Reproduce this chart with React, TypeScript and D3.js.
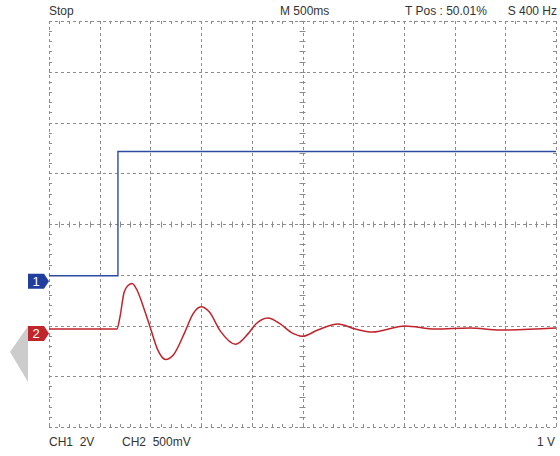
import React from "react";
import * as d3 from "d3";

// Header / footer labels
const topLabels = ["Stop", "M 500ms", "T Pos : 50.01%", "S 400 Hz"];
const bottomLabels = ["CH1  2V", "CH2  500mV", "1 V"];

// CH1 (V) vs time (s)
const ch1Time = [-2.5, -1.82, -1.82, 2.5];
const ch1Volts = [0, 0, 4.9, 4.9];

// CH2 (V) vs time (s) – damped ringing
const ch2Time = [-2.5, -2.0, -1.83, -1.8, -1.76, -1.72, -1.68, -1.63, -1.57, -1.5, -1.43, -1.35, -1.27, -1.16, -1.08, -1.0, -0.92, -0.81, -0.66, -0.54, -0.46, -0.34, -0.22, -0.1, 0.0, 0.15, 0.35, 0.52, 0.69, 1.01, 1.31, 1.65, 1.95, 2.5];
const ch2Volts = [0, 0, 0, 0.12, 0.36, 0.43, 0.45, 0.38, 0.22, 0.01, -0.2, -0.3, -0.25, -0.03, 0.15, 0.22, 0.17, -0.02, -0.15, -0.05, 0.05, 0.11, 0.05, -0.04, -0.07, -0.01, 0.05, 0.0, -0.03, 0.03, 0.0, 0.01, -0.01, 0.01];

const W = 560, H = 456;
const L = 49, R = 556, T = 21, B = 427;
const ch1Offset = -1.02; // divisions
const ch2Offset = -2.07;
const ch1VperDiv = 2;
const ch2VperDiv = 0.5;

export default function App() {
  const x = d3.scaleLinear().domain([-2.5, 2.5]).range([L, R]);
  const yDiv = d3.scaleLinear().domain([-4, 4]).range([B, T]);
  const xDivs = d3.range(0, 11).map((i) => L + ((R - L) * i) / 10);
  const yDivs = d3.range(0, 9).map((i) => T + ((B - T) * i) / 8);
  const xMinor = d3.range(0, 51).map((i) => L + ((R - L) * i) / 50);
  const yMinor = d3.range(0, 41).map((i) => T + ((B - T) * i) / 40);
  const cx = (L + R) / 2;
  const cy = (T + B) / 2;
  const p = (v: number) => Math.round(v) + 0.5;

  const line1 = d3
    .line<number>()
    .x((_, i) => x(ch1Time[i]))
    .y((d) => yDiv(ch1Offset + d / ch1VperDiv));
  const line2 = d3
    .line<number>()
    .x((_, i) => x(ch2Time[i]))
    .y((d) => yDiv(ch2Offset + d / ch2VperDiv))
    .curve(d3.curveMonotoneX);

  const grid = "#8c8c8c";
  const dash = "3,3";
  const y1g = yDiv(ch1Offset);
  const y2g = yDiv(ch2Offset);
  const marker = (yc: number) =>
    `M28,${yc - 7.5} L44,${yc - 7.5} L49,${yc} L44,${yc + 7.5} L28,${yc + 7.5} Z`;

  const font = { fontFamily: "'Liberation Sans', Arial, sans-serif", fontSize: 12, fill: "#333" };

  return (
    <div style={{ position: "fixed", left: 0, top: 0 }}>
      <svg width={W} height={H} style={{ display: "block", background: "#fff" }}>
        {/* grid */}
        {xDivs.map((gx, i) => (
          <line key={"vx" + i} x1={p(gx)} x2={p(gx)} y1={T} y2={B} stroke={grid} strokeDasharray={dash} />
        ))}
        {yDivs.map((gy, i) => (
          <line key={"hy" + i} x1={L} x2={R} y1={p(gy)} y2={p(gy)} stroke={grid} strokeDasharray={dash} />
        ))}
        {/* border minor ticks */}
        {xMinor.map((mx, i) => (
          <g key={"bx" + i}>
            <line x1={p(mx)} x2={p(mx)} y1={T} y2={T + 3} stroke={grid} />
            <line x1={p(mx)} x2={p(mx)} y1={B - 3} y2={B} stroke={grid} />
            <line x1={p(mx)} x2={p(mx)} y1={cy - 2.5} y2={cy + 3.5} stroke={grid} />
          </g>
        ))}
        {yMinor.map((my, i) => (
          <g key={"by" + i}>
            <line x1={L} x2={L + 3} y1={p(my)} y2={p(my)} stroke={grid} />
            <line x1={R - 3} x2={R} y1={p(my)} y2={p(my)} stroke={grid} />
            <line x1={cx - 3} x2={cx + 3} y1={p(my)} y2={p(my)} stroke={grid} />
          </g>
        ))}

        {/* traces */}
        <path d={line1(ch1Volts) || ""} fill="none" stroke="#2d4ba0" strokeWidth={1.4} />
        <path d={line2(ch2Volts) || ""} fill="none" stroke="#c0232b" strokeWidth={1.5} />

        {/* channel markers */}
        <path d={marker(y1g + 5.5)} fill="#1f3e9e" />
        <text x={36} y={y1g + 10} textAnchor="middle" style={{ ...font, fill: "#fff", fontSize: 13 }}>1</text>
        <path d={marker(y2g + 4.5)} fill="#c0252b" />
        <text x={36} y={y2g + 9} textAnchor="middle" style={{ ...font, fill: "#fff", fontSize: 13 }}>2</text>
        {/* trigger arrow */}
        <path d={`M28,${y2g - 3} L10,${y2g + 23} L28,${y2g + 53} Z`} fill="#cccccc" />

        {/* labels */}
        <text x={49} y={15} style={font}>{topLabels[0]}</text>
        <text x={280} y={15} style={font}>{topLabels[1]}</text>
        <text x={405} y={15} style={font}>{topLabels[2]}</text>
        <text x={557} y={15} textAnchor="end" style={font}>{topLabels[3]}</text>
        <text x={49} y={446} style={{ ...font, whiteSpace: "pre" }} xmlSpace="preserve">{bottomLabels[0]}</text>
        <text x={122} y={446} style={{ ...font, whiteSpace: "pre" }} xmlSpace="preserve">{bottomLabels[1]}</text>
        <text x={555} y={446} textAnchor="end" style={font}>{bottomLabels[2]}</text>
      </svg>
    </div>
  );
}
